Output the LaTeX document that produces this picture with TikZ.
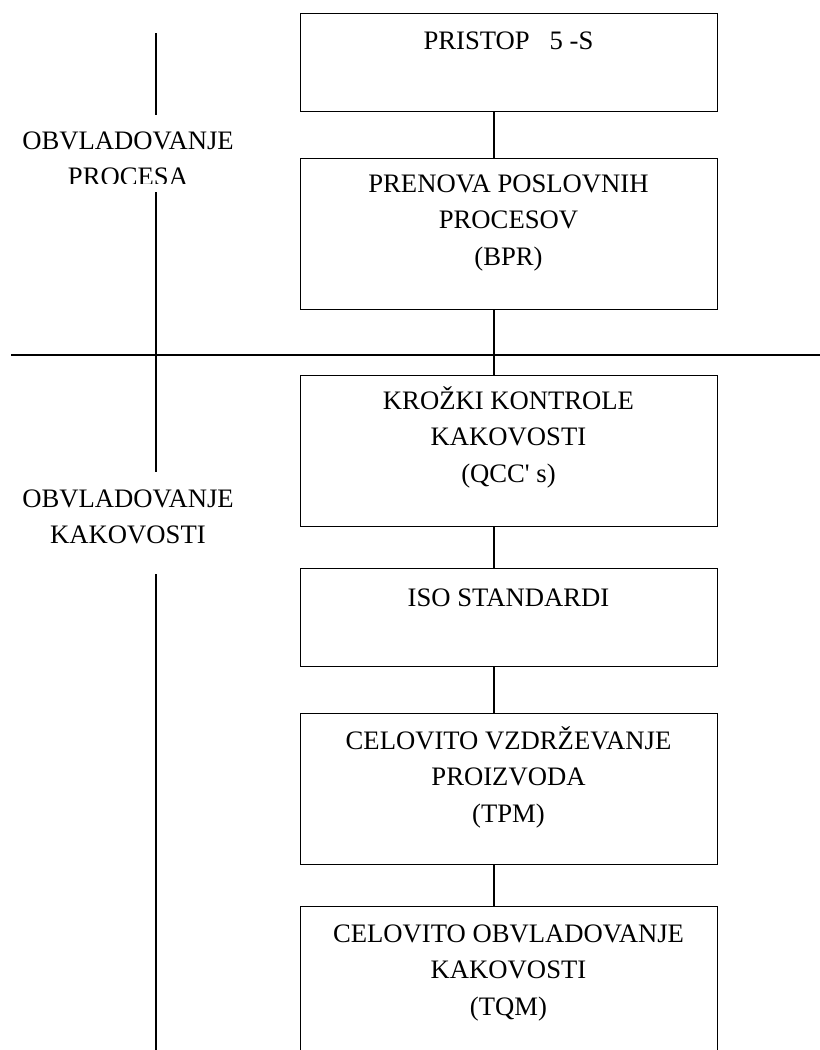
\documentclass[tikz,border=0pt]{standalone}
\usepackage{fontspec}
\newfontfamily\serif{Liberation Serif}
\begin{document}
\begin{tikzpicture}[x=0.75pt, y=-0.75pt,
  txt/.style={font=\serif\fontsize{20}{27.6}\selectfont, align=center, inner sep=0pt, anchor=base},
  box/.style={draw, line width=0.95pt, minimum width=312.75pt, inner sep=0pt, anchor=north west},
  shortbox/.style={box, minimum height=73.5pt},
  tallbox/.style={box, minimum height=113.25pt},
  link/.style={line width=0.95pt},
  axis/.style={line width=1.2pt}]
  \clip (0,0) rectangle (820,1050);

  % boxes of the chain
  \node[shortbox] (b1) at (300,13) {};
  \node[tallbox]  (b2) at (300,158) {};
  \node[tallbox]  (b3) at (300,375) {};
  \node[shortbox] (b4) at (300,568) {};
  \node[tallbox]  (b5) at (300,713) {};
  \node[tallbox]  (b6) at (300,906) {};

  % box texts (anchored at the baseline of the last line)
  \node[txt] (t1) at (508.5,49) {PRISTOP\ \ \ 5 -S};
  \node[txt] (t2) at (508.5,265.6) {PRENOVA POSLOVNIH\\PROCESOV\\(BPR)};
  \node[txt] (t3) at (508.5,482.6) {KROŽKI KONTROLE\\KAKOVOSTI\\(QCC' s)};
  \node[txt] (t4) at (508.5,606) {ISO STANDARDI};
  \node[txt] (t5) at (508.5,822.6) {CELOVITO VZDRŽEVANJE\\PROIZVODA\\(TPM)};
  \node[txt] (t6) at (508.5,1015.6) {CELOVITO OBVLADOVANJE\\KAKOVOSTI\\(TQM)};

  % connectors between the boxes
  \coordinate (cx) at (494,0);
  \draw[link] (b1.south -| cx) -- (b2.north -| cx);
  \draw[link] (b2.south -| cx) -- (b3.north -| cx);
  \draw[link] (b3.south -| cx) -- (b4.north -| cx);
  \draw[link] (b4.south -| cx) -- (b5.north -| cx);
  \draw[link] (b5.south -| cx) -- (b6.north -| cx);

  % divider between the two areas
  \coordinate (hl) at (11,355);
  \coordinate (hr) at (820,355);
  \draw[link] (hl) -- (hr);

  % area labels (the upper one is cut off below its first line)
  \begin{scope}
    \clip (0,0) rectangle (300,183);
    \node[txt] (lp) at (128,185.8) {OBVLADOVANJE\\PROCESA};
  \end{scope}
  \node[txt] (lk) at (128,543.8) {OBVLADOVANJE\\KAKOVOSTI};

  % vertical axis interrupted by the labels
  \coordinate (v1) at (156,33);
  \coordinate (v2) at (156,115);
  \coordinate (v3) at (156,192);
  \coordinate (v4) at (156,472);
  \coordinate (v5) at (156,574);
  \coordinate (v6) at (156,1050);
  \draw[axis] (v1) -- (v2);
  \draw[axis] (v3) -- (v4);
  \draw[axis] (v5) -- (v6);
\end{tikzpicture}
\end{document}
